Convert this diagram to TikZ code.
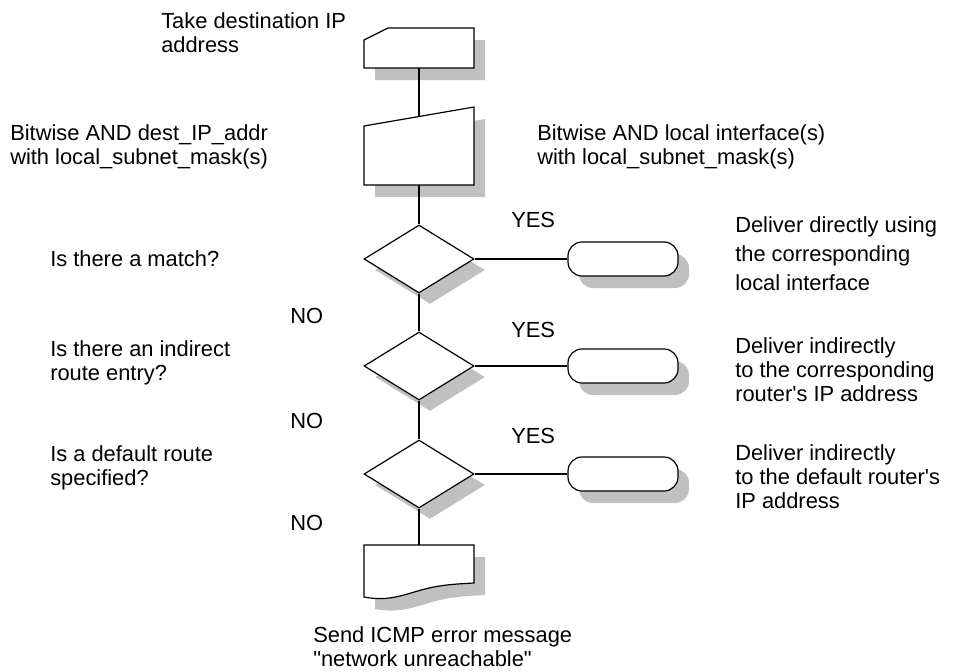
\documentclass[tikz,border=0pt]{standalone}
\usepackage{fontspec}
\setmainfont{Liberation Sans}[Ligatures=TeXOff]
\usetikzlibrary{shapes.geometric,shadows}
\definecolor{shadowgray}{HTML}{C0C0C0}
\tikzset{
  lbl/.style={font=\fontsize{16.4}{18}\selectfont, align=left, inner sep=0pt, anchor=base west},
  lblwide/.style={lbl, font=\fontsize{16.4}{21.4}\selectfont},
  shp/.style={draw=black, line width=0.9pt, fill=white},
  shd/.style={fill=shadowgray, draw=none},
  conn/.style={draw=black, line width=0.9pt},
  decision/.style={shp, diamond, minimum width=82.5pt, minimum height=51pt, inner sep=0pt,
    general shadow={fill=shadowgray, shadow xshift=8.25pt, shadow yshift=-8.25pt}},
  terminal/.style={shp, rectangle, rounded corners=10.5pt, minimum width=82.5pt, minimum height=25.5pt, inner sep=0pt,
    general shadow={fill=shadowgray, shadow xshift=8.25pt, shadow yshift=-9pt}},
}
\begin{document}
\begin{tikzpicture}[x=0.75pt,y=-0.75pt]
\useasboundingbox (0,0) rectangle (959,671);

% card (manual input) shape
\fill[shd] (375,52) -- (399,40) -- (485,40) -- (485,80) -- (375,80) -- cycle;
\draw[shp] (364,40) -- (388,28) -- (474,28) -- (474,68) -- (364,68) -- cycle;
\coordinate (cardB) at (419,68);

% manual operation shape
\fill[shd] (375,138) -- (485,119) -- (485,197) -- (375,197) -- cycle;
\draw[shp] (364,126) -- (474,107) -- (474,185) -- (364,185) -- cycle;
\coordinate (andT) at (419,116.5);
\coordinate (andB) at (419,185);

% decisions
\node[decision] (d1) at (419,259) {};
\node[decision] (d2) at (419,366) {};
\node[decision] (d3) at (419,474) {};

% terminals
\node[terminal] (e1) at (623,259) {};
\node[terminal] (e2) at (623,366) {};
\node[terminal] (e3) at (623,474) {};

% document shape
\fill[shd] (375,557) -- (485,557) -- (485,595) .. controls (466,596) and (451,597) .. (436,601)
  .. controls (416,606) and (401,614) .. (375,609) -- cycle;
\draw[shp] (364,545) -- (474,545) -- (474,583) .. controls (455,584) and (440,585) .. (425,589)
  .. controls (405,594) and (390,602) .. (364,597) -- cycle;
\coordinate (docT) at (419,545);

% connectors
\draw[conn] (cardB) -- (andT);
\draw[conn] (andB) -- (d1.north);
\draw[conn] (d1.south) -- (d2.north);
\draw[conn] (d2.south) -- (d3.north);
\draw[conn] (d3.south) -- (docT);
\draw[conn] (d1.east) -- (e1.west);
\draw[conn] (d2.east) -- (e2.west);
\draw[conn] (d3.east) -- (e3.west);

% labels (anchored at the baseline of the last line)
\node[lbl] (l1) at (161,52) {Take destination IP\\address};
\node[lbl] (l2) at (10,164) {Bitwise AND dest\_IP\_addr\\with local\_subnet\_mask(s)};
\node[lbl] (l3) at (537,164) {Bitwise AND local interface(s)\\with local\_subnet\_mask(s)};
\node[lbl] (y1) at (511,227) {YES};
\node[lbl] (q1) at (50,266) {Is there a match?};
\node[lblwide] (r1) at (735,290) {Deliver directly using\\the corresponding\\local interface};
\node[lbl] (n1) at (290,323) {NO};
\node[lbl] (y2) at (511,337) {YES};
\node[lbl] (q2) at (50,380) {Is there an indirect\\route entry?};
\node[lbl] (r2) at (735,401) {Deliver indirectly\\to the corresponding\\router's IP address};
\node[lbl] (n2) at (290,428) {NO};
\node[lbl] (y3) at (511,443) {YES};
\node[lbl] (q3) at (50,485) {Is a default route\\specified?};
\node[lbl] (r3) at (735,508) {Deliver indirectly\\to the default router's\\IP address};
\node[lbl] (n3) at (290,530) {NO};
\node[lbl] (l4) at (313,666) {Send ICMP error message\\"network unreachable"};
\end{tikzpicture}
\end{document}
